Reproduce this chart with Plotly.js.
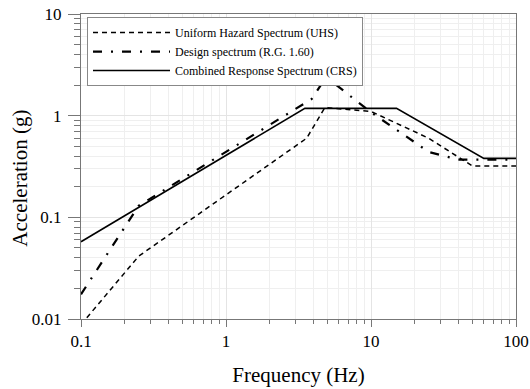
<!DOCTYPE html>
<html>
<head>
<meta charset="utf-8">
<script src="https://cdn.plot.ly/plotly-3.0.1.min.js"></script>
<style>html,body{margin:0;padding:0;background:#fff;}#chart{width:530px;height:389px;}</style>
</head>
<body>
<div id="chart"></div>
<script>
// Uniform Hazard Spectrum (UHS)
const freqUHS = [0.1, 0.25, 3.6, 4.8, 10, 25, 50, 100];
const accUHS  = [0.0088, 0.0415, 0.6, 1.2, 1.1, 0.6, 0.32, 0.32];
// Design spectrum (R.G. 1.60)
const freqRG = [0.1, 0.25, 3.9, 4.9, 10, 25, 40, 100];
const accRG  = [0.0175, 0.13, 1.46, 2.4, 1.08, 0.44, 0.37, 0.37];
// Combined Response Spectrum (CRS)
const freqCRS = [0.1, 3.5, 15, 60, 100];
const accCRS  = [0.0575, 1.18, 1.18, 0.38, 0.38];

const seriesNames = ['Uniform Hazard Spectrum (UHS)', 'Design spectrum (R.G. 1.60)', 'Combined Response Spectrum (CRS)'];
const xTickVals = [0.1, 1, 10, 100];
const xTickText = ['0.1', '1', '10', '100'];
const yTickVals = [0.01, 0.1, 1, 10];
const yTickText = ['0.01', '0.1', '1', '10'];
const xTitle = 'Frequency (Hz)';
const yTitle = 'Acceleration (g)';

const font = 'Liberation Serif, Times New Roman, serif';

const traces = [
  {x: freqUHS, y: accUHS, name: seriesNames[0], mode: 'lines',
   line: {color: '#000', width: 1.5, dash: '5px,4px'}},
  {x: freqRG, y: accRG, name: seriesNames[1], mode: 'lines',
   line: {color: '#000', width: 2.2, dash: '9px,9px,2px,9px'}},
  {x: freqCRS, y: accCRS, name: seriesNames[2], mode: 'lines',
   line: {color: '#000', width: 1.6}}
];

const axisCommon = {
  type: 'log',
  showline: true, linecolor: '#777', linewidth: 1, mirror: true,
  ticks: 'outside', tickcolor: '#777', tickwidth: 1,
  showgrid: true, gridcolor: '#e4e4e4', gridwidth: 1,
  zeroline: false,
  tickfont: {family: font, size: 17, color: '#000'},
  minor: {dtick: 'D1', showgrid: true, gridcolor: '#efefef', ticks: 'outside', ticklen: 4, tickcolor: '#777'}
};

const layout = {
  width: 530, height: 389,
  margin: {l: 81, r: 14, t: 14, b: 70},
  paper_bgcolor: '#fff', plot_bgcolor: '#fff',
  font: {family: font, color: '#000'},
  showlegend: true,
  legend: {
    x: 0.0138, y: 0.99, xanchor: 'left', yanchor: 'top',
    bgcolor: '#fff', bordercolor: '#888', borderwidth: 1,
    font: {family: font, size: 12, color: '#000'},
    itemwidth: 77, tracegroupgap: 0
  },
  xaxis: Object.assign({}, axisCommon, {
    range: [-1, 2], tickvals: xTickVals, ticktext: xTickText, ticklen: 7,
    title: {text: xTitle, font: {family: font, size: 21, color: '#000'}, standoff: 16}
  }),
  yaxis: Object.assign({}, axisCommon, {
    range: [-2, 1], tickvals: yTickVals, ticktext: yTickText, ticklen: 12,
    ticklabelstandoff: 3,
    minor: Object.assign({}, axisCommon.minor, {ticklen: 6}),
    title: {text: ''}
  }),
  annotations: [{
    text: yTitle, textangle: -90, showarrow: false,
    xref: 'paper', yref: 'paper', x: -0.139, y: 0.462,
    xanchor: 'center', yanchor: 'middle',
    font: {family: font, size: 21, color: '#000'}
  }]
};

Plotly.newPlot('chart', traces, layout, {staticPlot: true, displayModeBar: false});
</script>
</body>
</html>
